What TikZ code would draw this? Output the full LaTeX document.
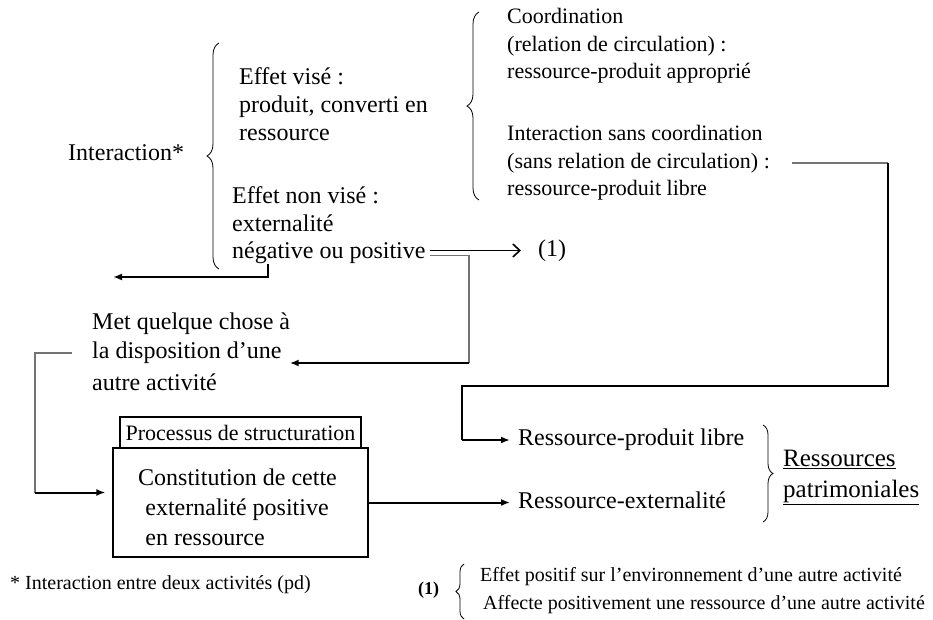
\documentclass[tikz,border=0pt]{standalone}
\usepackage{fontspec}
\setmainfont{Liberation Serif}
\usetikzlibrary{decorations.pathreplacing,arrows.meta}

\tikzset{
  txt/.style={anchor=west, inner sep=0pt, align=left, font=\fontsize{24}{28}\selectfont},
  txtb/.style={txt, font=\fontsize{22}{27.5}\selectfont},
  note/.style={txt, font=\fontsize{20}{28}\selectfont},
  boite/.style={draw, line width=1.2pt, inner sep=0pt},
  accolade/.style={decorate, decoration={brace, amplitude=#1}, line width=0.8pt},
  fleche/.style={line width=2pt, -{Latex[length=9pt,width=7pt]}},
  trait/.style={line width=1.6pt},
  gris/.style={line width=1.5pt, black!55}
}

\begin{document}
\begin{tikzpicture}[x=1pt,y=-1pt]
  \useasboundingbox (0,0) rectangle (933,620);

  %Interaction et ses deux effets
  \node[txt] (inter) at (68,153) {Interaction*};
  \draw[accolade=12pt] (219,269) -- (219,43);
  \node[txt] (vise) at (239,104) {Effet visé :\\produit, converti en\\ressource};
  \node[txt] (nonvise) at (232,209) {Effet non visé :\\externalité};
  \node[txt] (neg) at (232,253) {négative ou positive};

  %coordination / sans coordination
  \draw[accolade=12pt] (479,200) -- (479,12);
  \node[txtb] (coord) at (507,46) {Coordination\\(relation de circulation) :\\ressource-produit approprié};
  \node[txtb] (sanscoord) at (507,163) {Interaction sans coordination\\(sans relation de circulation) :\\ressource-produit libre};

  %renvoi (1)
  \node[txt] (un) at (538,251) {(1)};
  \coordinate (fl1) at ([xshift=-17pt]un.west);
  \draw[line width=1.6pt, -{Straight Barb[length=7pt,width=13pt]}] ([xshift=4pt,yshift=2.5pt]neg.east) coordinate (e1) -- (e1 -| fl1);

  %met a disposition
  \node[txt] (met) at (92,324) {Met quelque chose à};
  \node[txt] (dispo) at (92,353) {la disposition d'une};
  \node[txt] (autre) at (92,382) {autre activité};

  \coordinate (c1) at (469,0);
  \coordinate (fl2) at ([xshift=8pt,yshift=-10pt]dispo.east);
  \draw[gris] ([xshift=4pt,yshift=-2.5pt]neg.east) coordinate (e2) -- (e2 -| c1) -- (c1 |- fl2);
  \draw[fleche] (c1 |- fl2) -- (fl2);

  \coordinate (fl3) at (113,277);
  \draw[fleche] ([xshift=36pt]neg.south west) |- (fl3);

  %boites
  \node[boite, minimum width=241, minimum height=31, font=\fontsize{22}{25}\selectfont] (proc) at (240.5,432.5) {Processus de structuration};
  \node[boite, minimum width=255, minimum height=109] (constit) at (240.5,502.5) {};
  \node[txt, font=\fontsize{24}{30}\selectfont] (constitTxt) at (138,507)
    {Constitution de cette\\\hspace{0.3em}externalité positive\\\hspace{0.3em}en ressource};

  \coordinate (g0) at (35,0);
  \coordinate (fl4) at ([xshift=-7pt,yshift=10pt]constit.west);
  \draw[gris] ([xshift=-20pt]dispo.west) coordinate (g1) -- (g1 -| g0) -- (g0 |- fl4);
  \draw[fleche] (g0 |- fl4) -- (fl4);

  %ressources patrimoniales
  \node[txt] (rpl) at (518,440) {Ressource-produit libre};
  \node[txt] (rext) at (518,500) {Ressource-externalité};
  \draw[accolade=10pt] (763,425) -- (763,522);
  \node[txt, font=\fontsize{25}{28}\selectfont] (ress) at (783,459) {\underline{Ressources}};
  \node[txt, font=\fontsize{25}{28}\selectfont] (patri) at (783,492) {\underline{patrimoniales}};

  \coordinate (h1) at (888,386);
  \coordinate (h2) at (462,386);
  \coordinate (fl5) at ([xshift=-8pt]rpl.west);
  \draw[gris] ([xshift=22pt]sanscoord.east) coordinate (s1) -- (s1 -| h1);
  \draw[trait] (s1 -| h1) -- (h1) -- (h2) -- (h2 |- fl5);
  \draw[fleche] (h2 |- fl5) -- (fl5);

  \coordinate (fl6) at ([xshift=-8pt]rext.west);
  \draw[fleche] (constit.east) -- (constit.east -| fl6);

  %notes
  \node[note] (etoile) at (10,585) {* Interaction entre deux activités (pd)};
  \node[note, font=\fontsize{18}{22}\selectfont\bfseries] (renvoi) at (418,590) {(1)};
  \draw[accolade=8pt] (464,619) -- (464,564);
  \node[note] (fn1) at (480,577) {Effet positif sur l'environnement d'une autre activité};
  \node[note] (fn2) at (483,605) {Affecte positivement une ressource d'une autre activité};
\end{tikzpicture}
\end{document}
